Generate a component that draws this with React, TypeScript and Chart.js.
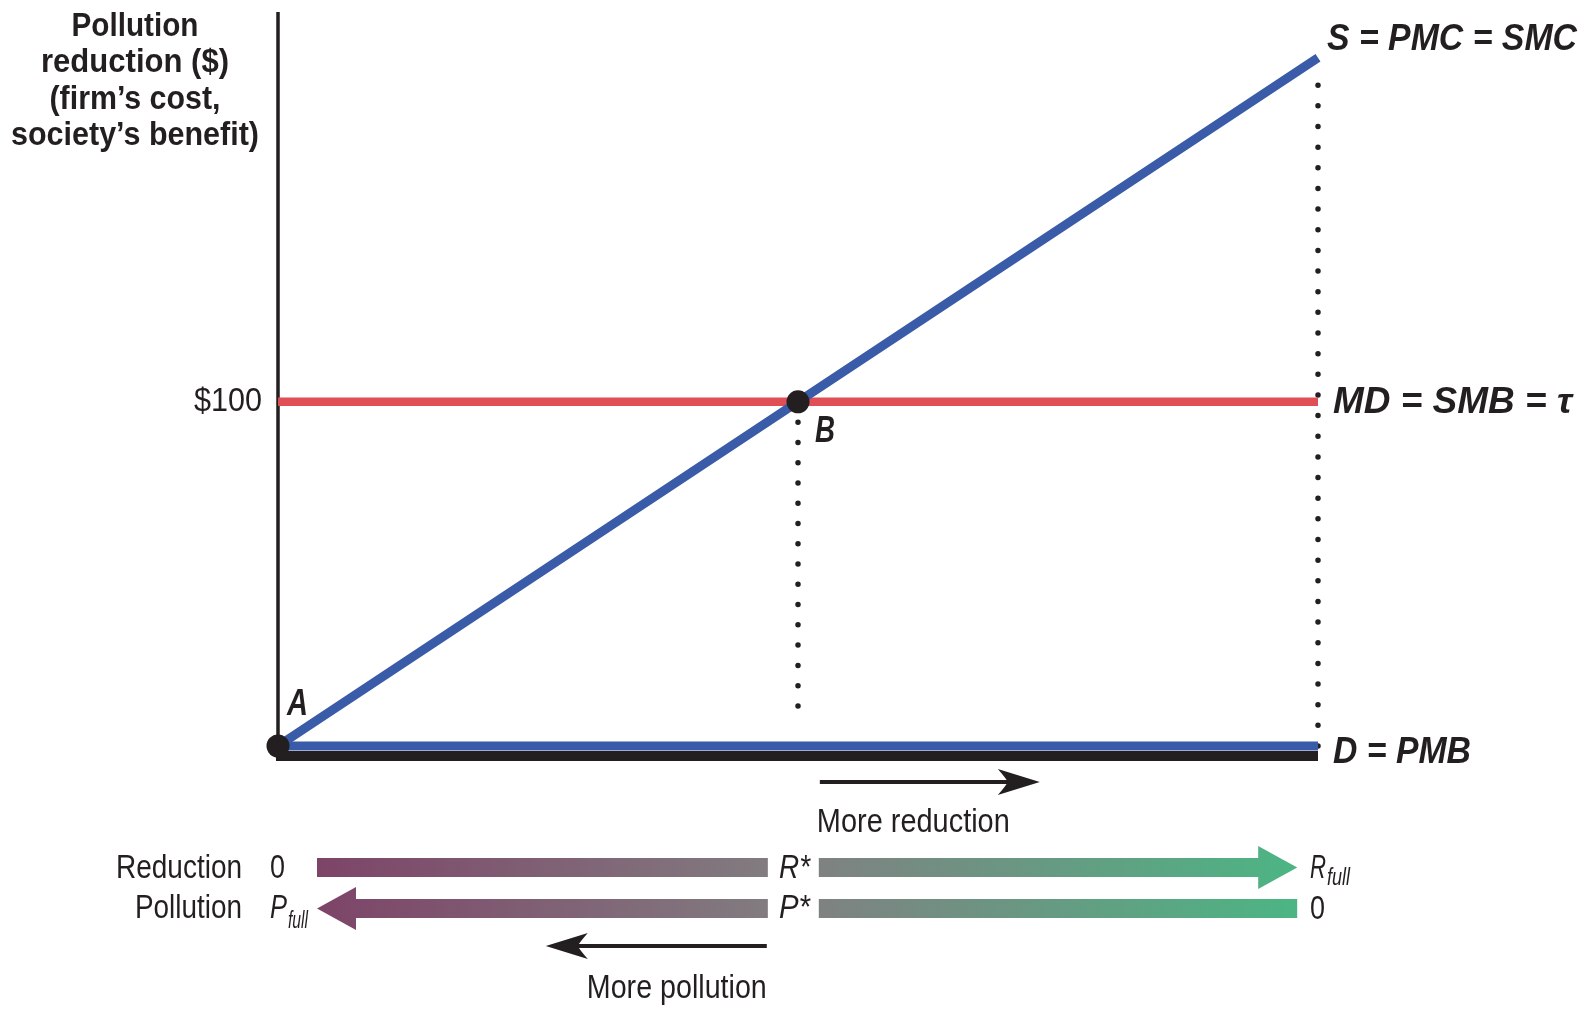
import { useEffect, useRef } from 'react';
import { Chart, registerables } from 'chart.js';

Chart.register(...registerables);

// ---------- data ----------
const REDUCTION_X = [0, 1, 2]; // 0, R*, R_full
const SMC_Y = [0, 100, 200]; // S = PMC = SMC
const SMB_Y = [100, 100, 100]; // MD = SMB = tau
const PMB_Y = [0, 0, 0]; // D = PMB
const POINT_X = [0, 1];
const POINT_Y = [0, 100];
const POINT_LABELS = ['A', 'B'];
const DROP_RSTAR_Y = [100, 5.8];
const DROP_RFULL_Y = [0, 198];
const Y_TICK_VALUES = [100];
const Y_TICK_LABELS = ['$100'];
const CURVE_LABELS = ['S = PMC = SMC', 'MD = SMB = \u03c4', 'D = PMB'];
const TITLE_LINES = ['Pollution', 'reduction ($)', '(firm\u2019s cost,', 'society\u2019s benefit)'];
const ROW_LABELS = ['Reduction', 'Pollution'];
const REDUCTION_MARKS = ['0', 'R*', 'R|full'];
const POLLUTION_MARKS = ['P|full', 'P*', '0'];
const DIRECTION_LABELS = ['More reduction', 'More pollution'];
const Y_MAX = 213;

const INK = '#231F20';
const BLUE = '#3A5BA7';
const RED = '#E04E56';
const FAM = '"Liberation Sans", Arial, sans-serif';

function fitText(ctx: CanvasRenderingContext2D, text: string, x: number, y: number, font: string, width: number, align: 'left' | 'right' | 'center') {
  ctx.save();
  ctx.font = font;
  ctx.textAlign = 'left';
  ctx.textBaseline = 'alphabetic';
  ctx.fillStyle = INK;
  const w = ctx.measureText(text).width;
  const s = width / w;
  const left = align === 'left' ? x : align === 'right' ? x - width : x - width / 2;
  ctx.translate(left, y);
  ctx.scale(s, 1);
  ctx.fillText(text, 0, 0);
  ctx.restore();
}

function drawSub(ctx: CanvasRenderingContext2D, spec: string, x: number, y: number, mainW: number, subW: number, subDy: number) {
  const [main, sub] = spec.split('|');
  fitText(ctx, main, x, y, `italic 34px ${FAM}`, mainW, 'left');
  fitText(ctx, sub, x + mainW + 1, y + subDy, `italic 24px ${FAM}`, subW, 'left');
}

function arrowLine(ctx: CanvasRenderingContext2D, x1: number, x2: number, y: number) {
  const dir = Math.sign(x2 - x1);
  ctx.save();
  ctx.strokeStyle = INK;
  ctx.fillStyle = INK;
  ctx.lineWidth = 4;
  ctx.beginPath();
  ctx.moveTo(x1, y);
  ctx.lineTo(x2 - dir * 30, y);
  ctx.stroke();
  ctx.beginPath();
  ctx.moveTo(x2, y);
  ctx.lineTo(x2 - dir * 42, y - 13);
  ctx.quadraticCurveTo(x2 - dir * 34, y - 4, x2 - dir * 32, y);
  ctx.quadraticCurveTo(x2 - dir * 34, y + 4, x2 - dir * 42, y + 13);
  ctx.closePath();
  ctx.fill();
  ctx.restore();
}

const overlay = {
  id: 'overlay',
  beforeDatasetsDraw(chart: any) {
    const ctx: CanvasRenderingContext2D = chart.ctx;
    const xs = chart.scales.x;
    const ys = chart.scales.y;
    const x0 = xs.getPixelForValue(0);
    const x2 = xs.getPixelForValue(2);
    const y0 = ys.getPixelForValue(0);
    ctx.save();
    ctx.fillStyle = INK;
    // x axis (thick black bar just below the D line)
    ctx.fillRect(x0 - 2, y0 + 5, x2 - x0 + 2, 10);
    // y axis
    ctx.fillRect(x0 - 1.75, chart.chartArea.top - 1, 3.5, y0 + 15 - chart.chartArea.top + 1);
    ctx.restore();
  },
  afterDatasetsDraw(chart: any) {
    const ctx: CanvasRenderingContext2D = chart.ctx;
    const xs = chart.scales.x;
    const ys = chart.scales.y;
    const px = (v: number) => xs.getPixelForValue(v);
    const py = (v: number) => ys.getPixelForValue(v);

    // title
    const titleBase = [36, 72, 108.5, 145];
    const titleW = [127, 188, 171, 248];
    TITLE_LINES.forEach((t, i) => fitText(ctx, t, 135, titleBase[i], `bold 33px ${FAM}`, titleW[i], 'center'));

    // y tick
    Y_TICK_VALUES.forEach((v, i) => fitText(ctx, Y_TICK_LABELS[i], px(0) - 16, py(v) + 9, `34px ${FAM}`, 68, 'right'));

    // curve labels
    fitText(ctx, CURVE_LABELS[0], px(2) + 9, py(SMC_Y[2]) - 8, `italic bold 36px ${FAM}`, 250, 'left');
    fitText(ctx, CURVE_LABELS[1], px(2) + 15, py(SMB_Y[2]) + 11, `italic bold 36px ${FAM}`, 239, 'left');
    fitText(ctx, CURVE_LABELS[2], px(2) + 15, py(PMB_Y[2]) + 17, `italic bold 36px ${FAM}`, 138, 'left');

    // point labels
    fitText(ctx, POINT_LABELS[0], px(POINT_X[0]) + 9, py(POINT_Y[0]) - 31, `italic bold 36px ${FAM}`, 21, 'left');
    fitText(ctx, POINT_LABELS[1], px(POINT_X[1]) + 17, py(POINT_Y[1]) + 40, `italic bold 36px ${FAM}`, 20, 'left');

    // direction arrows
    const yAxisPix = py(0);
    arrowLine(ctx, px(1.042), px(1.465), yAxisPix + 36);
    fitText(ctx, DIRECTION_LABELS[0], px(1.04) - 2, yAxisPix + 86, `34px ${FAM}`, 193, 'left');
    arrowLine(ctx, px(0.94), px(0.515), yAxisPix + 200);
    fitText(ctx, DIRECTION_LABELS[1], px(0.94), yAxisPix + 252, `34px ${FAM}`, 180, 'right');

    // gradient rows
    const gx1 = px(0.075);
    const gx2 = px(1.96);
    const grad = ctx.createLinearGradient(gx1, 0, gx2, 0);
    grad.addColorStop(0, '#7D4468');
    grad.addColorStop(0.48, '#827E81');
    grad.addColorStop(1, '#4CB584');
    const lEnd = px(0.942);
    const rStart = px(1.04);
    const barH = 19;
    const headL = 39;
    const headH = 21.5;
    ctx.save();
    ctx.fillStyle = grad;
    // reduction row
    const r1 = yAxisPix + 121.5;
    ctx.fillRect(gx1, r1 - barH / 2, lEnd - gx1, barH);
    ctx.fillRect(rStart, r1 - barH / 2, gx2 - headL - rStart + 1, barH);
    ctx.beginPath();
    ctx.moveTo(gx2 - headL, r1 - headH);
    ctx.lineTo(gx2, r1);
    ctx.lineTo(gx2 - headL, r1 + headH);
    ctx.closePath();
    ctx.fill();
    // pollution row
    const r2 = yAxisPix + 162.5;
    ctx.beginPath();
    ctx.moveTo(gx1 + headL, r2 - headH);
    ctx.lineTo(gx1, r2);
    ctx.lineTo(gx1 + headL, r2 + headH);
    ctx.closePath();
    ctx.fill();
    ctx.fillRect(gx1 + headL - 1, r2 - barH / 2, lEnd - gx1 - headL + 1, barH);
    ctx.fillRect(rStart, r2 - barH / 2, gx2 - rStart, barH);
    ctx.restore();

    // row labels
    fitText(ctx, ROW_LABELS[0], 242, r1 + 10, `34px ${FAM}`, 126, 'right');
    fitText(ctx, ROW_LABELS[1], 242, r2 + 9, `34px ${FAM}`, 107, 'right');

    // row marks
    fitText(ctx, REDUCTION_MARKS[0], px(0) - 8, r1 + 10, `34px ${FAM}`, 15, 'left');
    fitText(ctx, REDUCTION_MARKS[1], px(1) - 19, r1 + 10, `italic 34px ${FAM}`, 31, 'left');
    drawSub(ctx, REDUCTION_MARKS[2], px(2) - 8, r1 + 10, 16, 23, 7);
    drawSub(ctx, POLLUTION_MARKS[0], px(0) - 8, r2 + 9, 17, 20, 10);
    fitText(ctx, POLLUTION_MARKS[1], px(1) - 19, r2 + 9, `italic 34px ${FAM}`, 31, 'left');
    fitText(ctx, POLLUTION_MARKS[2], px(2) - 8, r2 + 10, `34px ${FAM}`, 15, 'left');
  },
};

function xy(xsArr: number[], ysArr: number[]) {
  return xsArr.map((x, i) => ({ x, y: ysArr[i] }));
}

export default function App() {
  const ref = useRef<HTMLCanvasElement>(null);
  useEffect(() => {
    const canvas = ref.current;
    if (!canvas) return;
    const chart = new Chart(canvas, {
      type: 'scatter',
      data: {
        datasets: [
          {
            label: 'points',
            data: xy(POINT_X, POINT_Y),
            pointRadius: 11.5,
            pointBackgroundColor: INK,
            pointBorderWidth: 0,
            showLine: false,
            clip: false,
            order: 0,
          },
          {
            label: CURVE_LABELS[0],
            data: xy(REDUCTION_X, SMC_Y),
            showLine: true,
            borderColor: BLUE,
            borderWidth: 9,
            pointRadius: 0,
            clip: false,
            order: 1,
          },
          {
            label: CURVE_LABELS[2],
            data: xy(REDUCTION_X, PMB_Y),
            showLine: true,
            borderColor: BLUE,
            borderWidth: 9,
            pointRadius: 0,
            clip: false,
            order: 2,
          },
          {
            label: CURVE_LABELS[1],
            data: xy(REDUCTION_X, SMB_Y),
            showLine: true,
            borderColor: RED,
            borderWidth: 8.5,
            pointRadius: 0,
            clip: false,
            order: 3,
          },
          {
            label: 'drop R*',
            data: xy([REDUCTION_X[1], REDUCTION_X[1]], DROP_RSTAR_Y),
            showLine: true,
            borderColor: INK,
            borderWidth: 5.5,
            borderDash: [0.01, 20.26],
            borderCapStyle: 'round',
            pointRadius: 0,
            clip: false,
            order: 4,
          },
          {
            label: 'drop Rfull',
            data: xy([REDUCTION_X[2], REDUCTION_X[2]], DROP_RFULL_Y),
            showLine: true,
            borderColor: INK,
            borderWidth: 5.5,
            borderDash: [0.01, 20.64],
            borderCapStyle: 'round',
            pointRadius: 0,
            clip: false,
            order: 5,
          },
        ],
      },
      options: {
        responsive: false,
        animation: false,
        layout: { padding: { left: 278, right: 270, top: 13, bottom: 268 } },
        scales: {
          x: { type: 'linear', min: 0, max: 2, display: false },
          y: { type: 'linear', min: 0, max: Y_MAX, display: false },
        },
        plugins: { legend: { display: false }, tooltip: { enabled: false } },
        events: [],
      },
      plugins: [overlay],
    } as any);
    return () => chart.destroy();
  }, []);
  return (
    <div style={{ position: 'fixed', left: 0, top: 0, width: 1588, height: 1014, background: '#fff' }}>
      <canvas ref={ref} width={1588} height={1014} style={{ display: 'block', width: 1588, height: 1014 }} />
    </div>
  );
}
